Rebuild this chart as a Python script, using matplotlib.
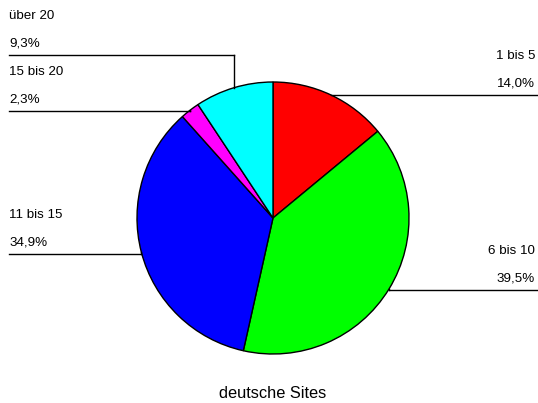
import numpy as np
import matplotlib
matplotlib.use("Agg")
import matplotlib.pyplot as plt

categories = ["1 bis 5", "6 bis 10", "11 bis 15", "15 bis 20", "über 20"]
values = [14.0, 39.5, 34.9, 2.3, 9.3]
pct_labels = ["14,0%", "39,5%", "34,9%", "2,3%", "9,3%"]
colors = ["#ff0000", "#00ff00", "#0000ff", "#ff00ff", "#00ffff"]
title = "deutsche Sites"

plt.rcParams['font.family'] = ['Liberation Sans', 'DejaVu Sans']

W, H = 538, 403
fig = plt.figure(figsize=(W / 100, H / 100), dpi=100)
ax = fig.add_axes([0, 0, 1, 1])

cx, cy, r = 273, H - 218, 136
ax.pie(values, colors=colors, startangle=90, counterclock=False,
       center=(cx, cy), radius=r, frame=True,
       wedgeprops=dict(edgecolor='black', linewidth=1.0))
ax.set_xlim(0, W)
ax.set_ylim(0, H)
ax.set_aspect('equal')
ax.axis('off')

# label layout: y of the line under each label (pixels from top), side
line_y = {"1 bis 5": 95, "6 bis 10": 290, "11 bis 15": 254,
          "15 bis 20": 111, "über 20": 55}
side = {"1 bis 5": "right", "6 bis 10": "right", "11 bis 15": "left",
        "15 bis 20": "left", "über 20": "left"}

fs = 9.6
total = sum(values)
cum = 0.0
for cat, v, p in zip(categories, values, pct_labels):
    mid = 90 - (cum + v / 2) / total * 360
    cum += v
    ex = cx + r * np.cos(np.radians(mid))
    ey = cy + r * np.sin(np.radians(mid))
    ly = H - line_y[cat]
    if side[cat] == "right":
        ax.plot([ex, 537], [ly, ly], color='black', lw=1)
        ax.plot([ex, ex], [ly, ey], color='black', lw=1)
        tx, ha = 535, 'right'
    else:
        ax.plot([9, ex], [ly, ly], color='black', lw=1)
        ax.plot([ex, ex], [ly, ey], color='black', lw=1)
        tx, ha = 9, 'left'
    ax.text(tx, ly + 11.5, p, ha=ha, va='center', fontsize=fs)
    ax.text(tx, ly + 39, cat, ha=ha, va='center', fontsize=fs)

ax.text(272.5, H - 393, title, ha='center', va='center', fontsize=11.8)

fig.savefig("out.png", dpi=100, facecolor='white')
